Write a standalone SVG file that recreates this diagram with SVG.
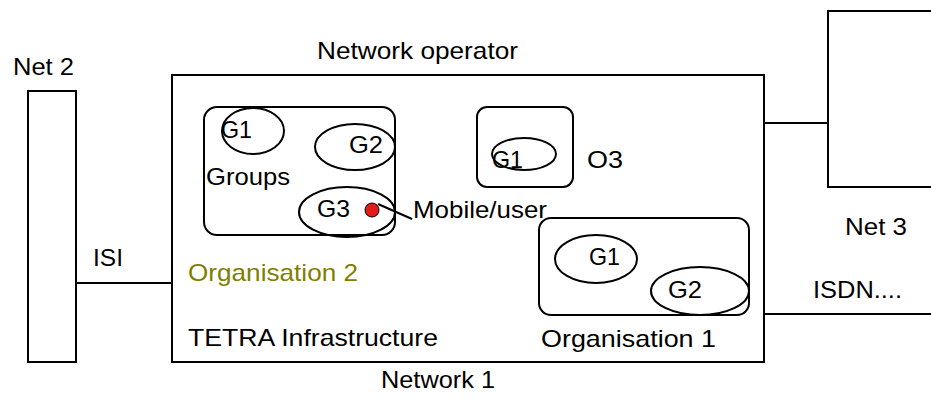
<svg xmlns="http://www.w3.org/2000/svg" width="931" height="398" viewBox="0 0 931 398">
  <style>
    .box { fill: none; stroke: #000; stroke-width: 2; }
    .link { fill: none; stroke: #000; stroke-width: 2; }
    text { font-family: "Liberation Sans", Arial, sans-serif; font-size: 24px; fill: #000; }
    .org2 { fill: #808000; }
  </style>

  <!-- external networks and main infrastructure -->
  <g id="net2">
    <rect class="box" x="28" y="91" width="48" height="271"/>
    <text x="13" y="75" textLength="61" lengthAdjust="spacingAndGlyphs">Net 2</text>
  </g>

  <g id="net3">
    <rect class="box" x="828" y="11" width="120" height="176"/>
    <text x="845" y="235" textLength="62" lengthAdjust="spacingAndGlyphs">Net 3</text>
  </g>

  <g id="network1">
    <rect class="box" x="172" y="75" width="592" height="287"/>
    <text x="317" y="59" textLength="201" lengthAdjust="spacingAndGlyphs">Network operator</text>
    <text x="188" y="346" textLength="250" lengthAdjust="spacingAndGlyphs">TETRA Infrastructure</text>
    <text x="381" y="388" textLength="114" lengthAdjust="spacingAndGlyphs">Network 1</text>
    <text class="org2" x="188" y="281" textLength="170" lengthAdjust="spacingAndGlyphs">Organisation 2</text>
  </g>

  <!-- Organisation 2 groups -->
  <g id="groups">
    <rect class="box" x="204" y="107" width="191" height="128" rx="13"/>
    <text x="206" y="185" textLength="84" lengthAdjust="spacingAndGlyphs">Groups</text>
  </g>
  <g id="groups-g1">
    <ellipse class="box" cx="253" cy="131" rx="31" ry="23"/>
    <text x="221" y="138" textLength="31" lengthAdjust="spacingAndGlyphs">G1</text>
  </g>
  <g id="groups-g2">
    <ellipse class="box" cx="355" cy="147" rx="40" ry="23"/>
    <text x="349" y="153" textLength="34" lengthAdjust="spacingAndGlyphs">G2</text>
  </g>
  <g id="groups-g3">
    <ellipse class="box" cx="347" cy="212" rx="48" ry="25"/>
    <text x="317" y="217" textLength="33" lengthAdjust="spacingAndGlyphs">G3</text>
  </g>
  <g id="mobile">
    <circle cx="372" cy="210" r="7" fill="#e41b17" stroke="#000" stroke-width="1"/>
    <text x="413" y="218" textLength="134" lengthAdjust="spacingAndGlyphs">Mobile/user</text>
  </g>

  <!-- Organisation 3 -->
  <g id="o3">
    <rect class="box" x="477" y="107" width="96" height="80" rx="10"/>
    <text x="587" y="168" textLength="36" lengthAdjust="spacingAndGlyphs">O3</text>
  </g>
  <g id="o3-g1">
    <ellipse class="box" cx="524" cy="154" rx="32" ry="16"/>
    <text x="492" y="168" textLength="31" lengthAdjust="spacingAndGlyphs">G1</text>
  </g>

  <!-- Organisation 1 -->
  <g id="org1">
    <rect class="box" x="539" y="218" width="210" height="97" rx="12"/>
    <text x="541" y="347" textLength="175" lengthAdjust="spacingAndGlyphs">Organisation 1</text>
  </g>
  <g id="org1-g1">
    <ellipse class="box" cx="596" cy="259" rx="41" ry="24"/>
    <text x="589" y="265" textLength="31" lengthAdjust="spacingAndGlyphs">G1</text>
  </g>
  <g id="org1-g2">
    <ellipse class="box" cx="700" cy="291" rx="49" ry="24"/>
    <text x="668" y="298" textLength="34" lengthAdjust="spacingAndGlyphs">G2</text>
  </g>

  <!-- connectors -->
  <g id="connectors">
    <line class="link" x1="76" y1="283" x2="172" y2="283"/>
    <text x="93" y="266" textLength="30" lengthAdjust="spacingAndGlyphs">ISI</text>
    <line class="link" x1="764" y1="123" x2="828" y2="123"/>
    <line class="link" x1="764" y1="314" x2="931" y2="314"/>
    <text x="813" y="298" textLength="89" lengthAdjust="spacingAndGlyphs">ISDN....</text>
    <line class="link" x1="378" y1="204" x2="412" y2="219"/>
  </g>
</svg>
